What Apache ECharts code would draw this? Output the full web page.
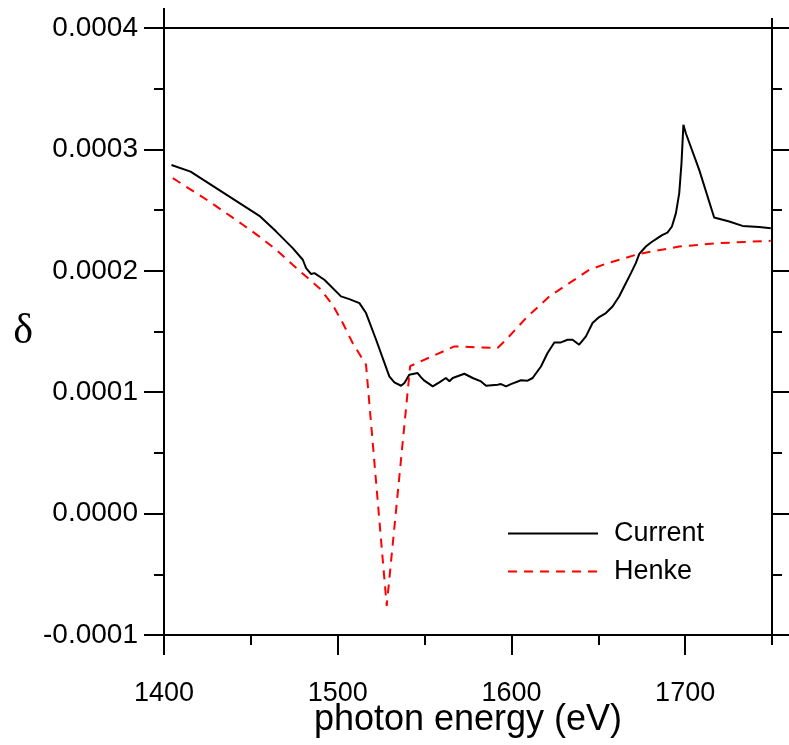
<!DOCTYPE html>
<html>
<head>
<meta charset="utf-8">
<script src="https://cdn.jsdelivr.net/npm/echarts@6/dist/echarts.min.js"></script>
<style>
  html, body { margin: 0; padding: 0; background: #fff; }
  #chart { width: 789px; height: 745px; }
</style>
</head>
<body>
<div id="chart"></div>
<script>
// Refractive index decrement δ versus photon energy near the Al K edge
const energyCurrent = [1404.3, 1415.3, 1454.9, 1464.6, 1474.1, 1479.9, 1481.8, 1484.7, 1486.6, 1492.3,
  1501.9, 1506.7, 1512.5, 1516.3, 1522.1, 1529.7, 1532.6, 1536.5, 1538.4, 1541.2,
  1546.0, 1548.0, 1549.9, 1554.7, 1558.5, 1562.3, 1564.3, 1566.2, 1572.9, 1577.7,
  1582.5, 1585.4, 1592.1, 1594.0, 1596.9, 1599.7, 1605.5, 1609.3, 1612.2, 1617.0,
  1620.8, 1624.7, 1628.5, 1632.3, 1635.2, 1639.0, 1642.9, 1646.7, 1650.5, 1654.4,
  1658.2, 1662.0, 1664.9, 1668.8, 1671.6, 1673.6, 1677.4, 1680.3, 1684.1, 1687.0,
  1689.8, 1692.4, 1694.7, 1696.6, 1697.9, 1699.0, 1700.4, 1708.1, 1716.7, 1725.4,
  1733.0, 1742.6, 1749.3];
const deltaCurrent = [2.872e-4, 2.817e-4, 2.453e-4, 2.323e-4, 2.187e-4, 2.091e-4, 2.022e-4, 1.973e-4, 1.981e-4, 1.926e-4,
  1.789e-4, 1.767e-4, 1.734e-4, 1.652e-4, 1.432e-4, 1.130e-4, 1.081e-4, 1.053e-4, 1.075e-4, 1.144e-4,
  1.158e-4, 1.122e-4, 1.095e-4, 1.048e-4, 1.081e-4, 1.117e-4, 1.090e-4, 1.117e-4, 1.152e-4, 1.117e-4,
  1.089e-4, 1.053e-4, 1.062e-4, 1.067e-4, 1.048e-4, 1.067e-4, 1.098e-4, 1.095e-4, 1.117e-4, 1.212e-4,
  1.323e-4, 1.410e-4, 1.410e-4, 1.432e-4, 1.432e-4, 1.391e-4, 1.460e-4, 1.570e-4, 1.619e-4, 1.652e-4,
  1.706e-4, 1.788e-4, 1.871e-4, 1.981e-4, 2.063e-4, 2.140e-4, 2.200e-4, 2.233e-4, 2.269e-4, 2.296e-4,
  2.315e-4, 2.365e-4, 2.475e-4, 2.640e-4, 2.886e-4, 3.202e-4, 3.133e-4, 2.831e-4, 2.439e-4, 2.406e-4,
  2.370e-4, 2.360e-4, 2.351e-4];

const energyHenke = [1405.1, 1426.2, 1445.4, 1454.9, 1464.6, 1474.1, 1481.8, 1489.5, 1497.1, 1502.9,
  1508.6, 1516.3, 1528.2, 1541.7, 1567.1, 1592.0, 1596.9, 1608.4, 1621.8, 1633.3,
  1644.8, 1654.4, 1673.6, 1696.6, 1719.6, 1749.3];
const deltaHenke = [2.763e-4, 2.570e-4, 2.379e-4, 2.282e-4, 2.173e-4, 2.049e-4, 1.953e-4, 1.857e-4, 1.720e-4, 1.570e-4,
  1.405e-4, 1.226e-4, -0.760e-4, 1.215e-4, 1.377e-4, 1.364e-4, 1.432e-4, 1.611e-4, 1.788e-4, 1.898e-4,
  2.008e-4, 2.058e-4, 2.140e-4, 2.200e-4, 2.228e-4, 2.247e-4];

const xMajorTicks = [1400, 1500, 1600, 1700];
const xMinorTicks = [1450, 1550, 1650, 1750];
const seriesNames = ['Current', 'Henke'];

const pair = (xs, ys) => xs.map((x, i) => [x, ys[i]]);

const sansFont = '"Liberation Sans", Arial, sans-serif';
const axisColor = '#000';
const lineW = 2;

function xAxisDef(position, ticks, length, extra) {
  return Object.assign({
    type: 'value', gridIndex: 0, position: position,
    min: 1400, max: 1750, interval: 50,
    axisLine: { show: true, onZero: false, lineStyle: { color: axisColor, width: lineW } },
    axisTick: { show: true, inside: false, length: length, customValues: ticks,
                lineStyle: { color: axisColor, width: lineW } },
    axisLabel: { show: false },
    splitLine: { show: false }
  }, extra || {});
}

function yAxisDef(position, extra) {
  return Object.assign({
    type: 'value', position: position,
    min: -0.0001, max: 0.0004, interval: 0.0001,
    axisLine: { show: true, onZero: false, lineStyle: { color: axisColor, width: lineW } },
    axisTick: { show: true, inside: false, length: 20, lineStyle: { color: axisColor, width: lineW } },
    minorTick: { show: true, splitNumber: 2, length: 10, lineStyle: { color: axisColor, width: lineW } },
    axisLabel: { show: false },
    splitLine: { show: false }
  }, extra || {});
}

const chart = echarts.init(document.getElementById('chart'), null, { renderer: 'canvas' });
chart.setOption({
  backgroundColor: '#fff',
  animation: false,
  grid: { left: 164, right: 17, top: 28, bottom: 110, containLabel: false, outerBoundsMode: 'none' },
  legend: {
    orient: 'vertical', left: 507, top: 520, padding: 0,
    itemWidth: 90, itemHeight: 30, itemGap: 11,
    data: seriesNames,
    itemStyle: { color: 'rgba(0,0,0,0)', borderWidth: 0, opacity: 0 },
    textStyle: { fontFamily: sansFont, fontSize: 27, color: '#000', padding: [0, 0, 0, 11] }
  },
  xAxis: [
    xAxisDef('bottom', xMajorTicks, 20, {
      axisLabel: { show: true, customValues: xMajorTicks, margin: 45, color: '#000',
                   fontFamily: sansFont, fontSize: 27, formatter: v => String(v) },
      name: 'photon energy (eV)', nameLocation: 'middle', nameGap: 67, nameMoveOverlap: false,
      nameTextStyle: { fontFamily: sansFont, fontSize: 36, color: '#000' }
    }),
    xAxisDef('bottom', xMinorTicks, 10),
    xAxisDef('top', [1400], 20),
    xAxisDef('top', [1750], 10)
  ],
  yAxis: [
    yAxisDef('left', {
      axisLabel: { show: true, margin: 26, color: '#000', fontFamily: sansFont, fontSize: 28,
                   formatter: v => v.toFixed(4) },
      name: 'δ', nameLocation: 'middle', nameRotate: 0, nameGap: 131, nameMoveOverlap: false,
      nameTextStyle: { fontFamily: '"Liberation Serif", "DejaVu Serif", serif', fontSize: 42, color: '#000' }
    }),
    yAxisDef('right')
  ],
  series: [
    {
      name: 'Current', type: 'line', xAxisIndex: 0, yAxisIndex: 0,
      data: pair(energyCurrent, deltaCurrent),
      symbol: 'none', smooth: false,
      lineStyle: { color: '#000', width: 2 },
      itemStyle: { color: '#000' }
    },
    {
      name: 'Henke', type: 'line', xAxisIndex: 0, yAxisIndex: 0,
      data: pair(energyHenke, deltaHenke),
      symbol: 'none', smooth: false,
      lineStyle: { color: '#ff0000', width: 2, type: [9, 7] },
      itemStyle: { color: '#ff0000' }
    }
  ]
});
</script>
</body>
</html>
